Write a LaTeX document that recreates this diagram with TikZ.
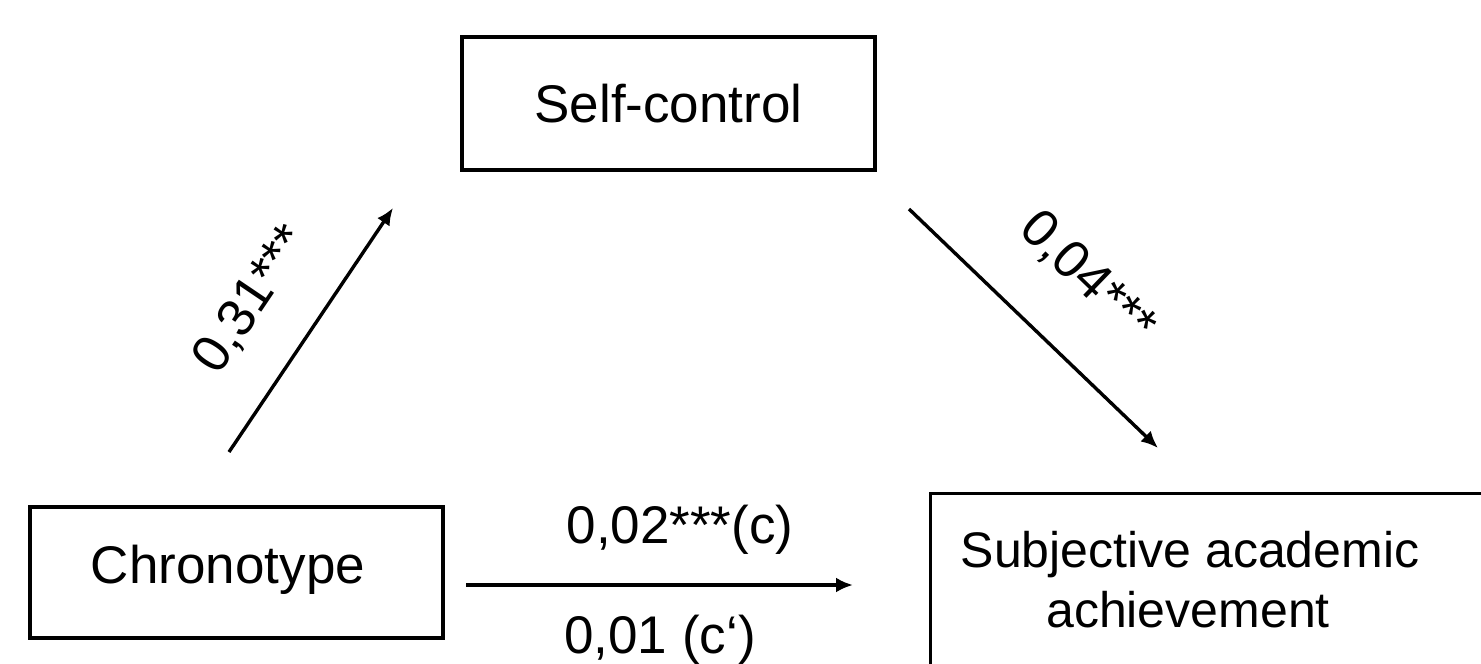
\documentclass[tikz,border=0pt]{standalone}
\usepackage{fontspec}
\setmainfont{Liberation Sans}
\usetikzlibrary{arrows.meta}
\begin{document}
\begin{tikzpicture}[x=1pt,y=-1pt,
  box/.style={draw, line width=3.2pt, rectangle, inner sep=0pt},
  lbl/.style={font=\fontsize{53}{60}\selectfont, inner sep=0pt},
  path/.style={line width=3.4pt, -{Latex[length=17pt,width=15pt]}}]
  \clip (0,0) rectangle (1481,664);
  \fill[white] (0,0) rectangle (1481,664);

  % variables
  \node[box, minimum width=413pt, minimum height=133pt] (self) at (668.5,103.5) {};
  \node[lbl] (selftxt) at (self.center) {Self-control};
  \node[box, minimum width=413pt, minimum height=131pt] (chrono) at (236.5,572.5) {};
  \node[lbl] (chronotxt) at (228,570) {Chronotype};
  \node[box, minimum width=600pt, minimum height=240pt, anchor=north west] (sub) at (929,492) {};
  \node[lbl, font=\fontsize{50}{60}\selectfont, anchor=base] (subtxt1) at (1190,567) {Subjective academic};
  \node[lbl, font=\fontsize{50}{60}\selectfont, anchor=base] (subtxt2) at (1188,627) {achievement};

  % paths
  \coordinate (a1) at (229,452);
  \coordinate (a2) at (393,208);
  \coordinate (b1) at (909,209);
  \coordinate (b2) at (1158,448);
  \coordinate (c1) at (466,585);
  \coordinate (c2) at (853,585);
  \draw[path] (a1) -- (a2);
  \draw[path] (b1) -- (b2);
  \draw[path] (c1) -- (c2);

  % coefficients
  \node[lbl, rotate=56] (la) at (252,300) {0,31***};
  \node[lbl, rotate=-44] (lb) at (1087,278) {0,04***};
  \node[lbl, anchor=base] (lc) at (680,543) {0,02***(c)};
  \node[lbl, anchor=base] (lcp) at (660,653) {0,01 (c‘)};
\end{tikzpicture}
\end{document}
